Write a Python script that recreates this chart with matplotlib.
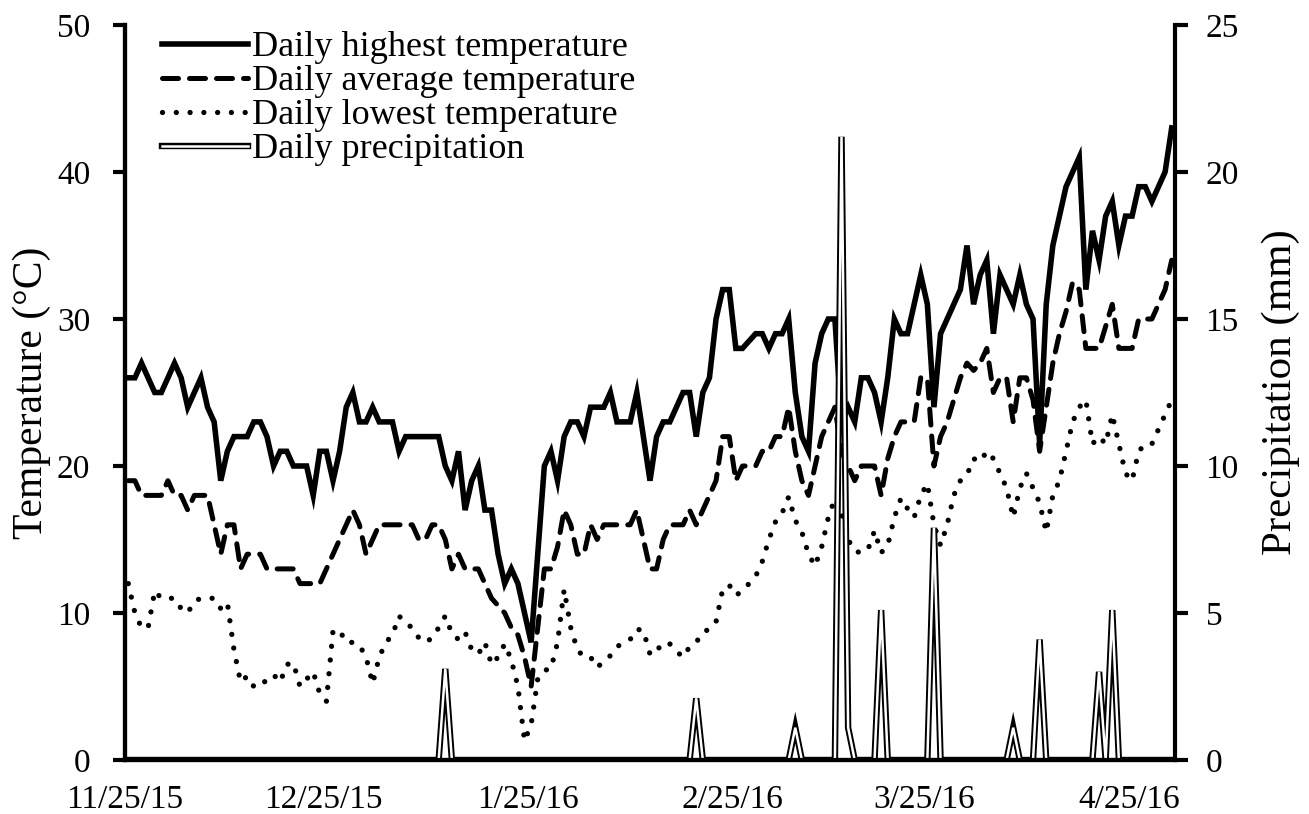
import matplotlib
matplotlib.use('Agg')
import matplotlib.pyplot as plt
import matplotlib.patheffects as pe
import numpy as np
import pandas as pd

plt.rcParams['font.family'] = ['Liberation Serif', 'DejaVu Serif']

START = pd.Timestamp('2015-11-25')

# daily values from 11/25/15 to 5/1/16, one per day (°C)
t_high = [
    26, 26, 27, 26, 25, 25, 26, 27, 26, 24,
    25, 26, 24, 23, 19, 21, 22, 22, 22, 23,
    23, 22, 20, 21, 21, 20, 20, 20, 18, 21,
    21, 19, 21, 24, 25, 23, 23, 24, 23, 23,
    23, 21, 22, 22, 22, 22, 22, 22, 20, 19,
    21, 17, 19, 20, 17, 17, 14, 12, 13, 12,
    10, 8, 14, 20, 21, 19, 22, 23, 23, 22,
    24, 24, 24, 25, 23, 23, 23, 25, 22, 19,
    22, 23, 23, 24, 25, 25, 22, 25, 26, 30,
    32, 32, 28, 28, 28.5, 29, 29, 28, 29, 29,
    30, 25, 22, 21, 27, 29, 30, 30, 23, 24,
    23, 26, 26, 25, 23, 26, 30, 29, 29, 31,
    33, 31, 24, 29, 30, 31, 32, 35, 31, 33,
    34, 29, 33, 32, 31, 33, 31, 30, 21.5, 31,
    35, 37, 39, 40, 41, 32, 36, 34, 37, 38,
    35, 37, 37, 39, 39, 38, 39, 40, 43,
]
t_avg = [
    19, 19, 18, 18, 18, 18, 19, 18, 18, 17,
    18, 18, 18, 16, 14, 16, 16, 13, 14, 14,
    14, 13, 13, 13, 13, 13, 12, 12, 12, 12,
    13, 14, 15, 16, 17, 16, 14, 15, 16, 16,
    16, 16, 16, 16, 15, 15, 16, 16, 15, 13,
    14, 13, 13, 13, 12, 11, 10.5, 10, 9, 8.5,
    7, 5, 9, 13, 13, 14.5, 17, 16, 14, 14,
    16, 15, 16, 16, 16, 16, 16, 17, 15, 13,
    13, 15, 16, 16, 16, 17, 16, 17, 18, 19,
    22, 22, 19, 20, 20, 20, 21, 21, 22, 22,
    24, 21, 19, 18, 20, 22, 23, 24, 21, 20,
    19, 20, 20, 20, 18, 20.5, 22, 23, 23, 23,
    26, 26, 20, 22, 23, 24.5, 26, 27, 26.5, 27,
    28, 25, 26, 26, 23, 26, 26, 24.5, 21, 24,
    27, 29, 30.5, 32.5, 32, 28, 28, 28, 29.5, 31,
    28, 28, 28, 30, 30, 30, 31, 32, 34,
]
t_low = [
    12, 10, 9, 9, 11.5, 11, 11, 11, 10.3, 10,
    10.8, 11, 11, 11, 10.3, 10.7, 7.5, 5.3, 5.7, 5,
    5, 5.5, 5.8, 5.3, 6.5, 6.6, 5, 5.5, 6, 4.5,
    4, 8.8, 8.8, 8, 8, 7.8, 7, 5.2, 7, 8,
    8.5, 9.8, 9.3, 9, 8.3, 8, 8.3, 9, 9.8, 8.6,
    8.2, 8.7, 7.5, 7.2, 8, 6.5, 7, 7.9, 6.8, 5,
    1.3, 2.4, 5.5, 6.1, 6.2, 8, 11.6, 9, 7.5, 7,
    7, 6.3, 6.7, 7.1, 7.7, 8, 8.2, 8.9, 8.8, 7.2,
    7.7, 7.5, 7.9, 7.4, 7, 7.7, 8, 8.7, 8.9, 9.4,
    11.6, 11.9, 11.2, 11.5, 12, 12.5, 13.5, 15, 16.2, 16.8,
    17.9, 16.3, 15.5, 14, 13.2, 14.5, 16.5, 17.8, 16.8, 15,
    14.2, 14.1, 14.3, 15.6, 14.1, 14.6, 16.5, 17.8, 17.1, 16.5,
    18, 18.8, 16, 14.6, 16, 18, 19, 19.4, 20.5, 20.3,
    21, 20.5, 19.5, 18.5, 16.5, 18.5, 19.5, 18.5, 17.5, 15.5,
    18, 19, 21, 23, 24, 24.5, 21.5, 22, 21.5, 23.5,
    21.5, 19.5, 19, 21, 21.5, 21.5, 22.5, 23.5, 24.5,
]

# rainy days only, every other day is 0 mm
rain_dates = ['2016-01-12', '2016-02-19', '2016-03-05', '2016-03-12', '2016-03-13',
              '2016-03-18', '2016-03-26', '2016-04-07', '2016-04-11', '2016-04-20',
              '2016-04-22']
rain_mm = [3.1, 2.1, 1.1, 21.2, 1.1, 5.1, 7.9, 1.1, 4.1, 3.0, 5.1]

tick_dates = ['2015-11-25', '2015-12-25', '2016-01-25', '2016-02-25', '2016-03-25', '2016-04-25']
tick_labels = ['11/25/15', '12/25/15', '1/25/16', '2/25/16', '3/25/16', '4/25/16']

n = len(t_high)
days = pd.date_range(START, periods=n, freq='D')
x = np.arange(n)
rain = pd.Series(rain_mm, index=pd.to_datetime(rain_dates)).reindex(days, fill_value=0).values
tick_pos = [(pd.Timestamp(d) - START).days - 0.5 for d in tick_dates]

fig = plt.figure(figsize=(13.09, 8.14), dpi=100)
ax = fig.add_axes([125 / 1309, 1 - 760 / 814, 1050 / 1309, 735 / 814])
ax2 = ax.twinx()

l1, = ax.plot(x, t_high, color='black', lw=4, solid_joinstyle='miter',
              label='Daily highest temperature')
l2, = ax.plot(x, t_avg, color='black', lw=3.6, linestyle=(0, (3.2, 2.2)),
              dash_capstyle='round', label='Daily average temperature')
l3, = ax.plot(x, t_low, color='black', lw=3.8, linestyle=(0, (0.01, 2.6)),
              dash_capstyle='round', label='Daily lowest temperature')
l4, = ax2.plot(x, rain, color='white', lw=1.8, solid_joinstyle='miter',
               path_effects=[pe.Stroke(linewidth=4.6, foreground='black'), pe.Normal()],
               label='Daily precipitation')

ax.set_xlim(-0.5, n - 0.5)
ax.set_ylim(0, 50)
ax2.set_ylim(0, 25)
ax.set_yticks(range(0, 51, 10))
ax2.set_yticks(range(0, 26, 5))
ax.set_xticks(tick_pos)
ax.set_xticklabels(tick_labels)

for a in (ax, ax2):
    a.spines['top'].set_visible(False)
    for s in ('left', 'right', 'bottom'):
        a.spines[s].set_linewidth(3)
ax.spines['right'].set_visible(False)

ax.tick_params(axis='y', direction='out', length=9, width=3, pad=16, labelsize=24)
ax.tick_params(axis='x', length=0, pad=18, labelsize=24)
ax2.tick_params(axis='y', direction='out', length=9, width=3, pad=13, labelsize=24)

ax.set_ylabel('Temperature (°C)', fontsize=30, labelpad=4)
ax2.set_ylabel('Precipitation (mm)', fontsize=31, labelpad=16)

ax.legend(handles=[l1, l2, l3, l4], loc='upper left', bbox_to_anchor=(0.035, 0.992),
          frameon=False, fontsize=26, handlelength=2.4, handletextpad=0.1,
          labelspacing=0.02, borderpad=0, borderaxespad=0)

fig.savefig('out.png', dpi=100, facecolor='white')
